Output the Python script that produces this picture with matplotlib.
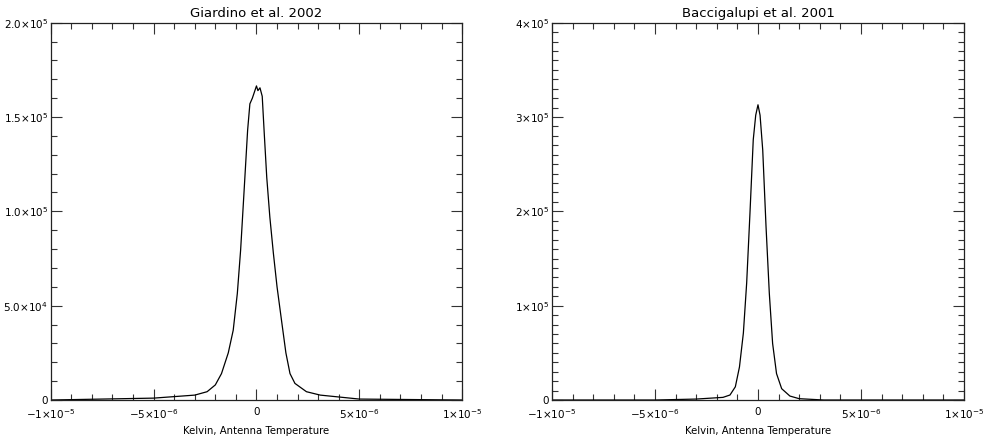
import numpy as np
import matplotlib
matplotlib.use("Agg")
import matplotlib.pyplot as plt
from matplotlib.ticker import FixedLocator, MultipleLocator

# Giardino et al. 2002 histogram (x in Kelvin, y counts)
giardino_x = [-1.0e-5, -5.0e-6, -3.0e-6, -2.4e-6, -2.0e-6, -1.7e-6, -1.37e-6, -1.13e-6,
              -0.93e-6, -0.77e-6, -0.59e-6, -0.43e-6, -0.32e-6, -0.2e-6, 0.0, 0.07e-6,
              0.17e-6, 0.28e-6, 0.38e-6, 0.5e-6, 0.65e-6, 0.82e-6, 1.0e-6, 1.22e-6,
              1.43e-6, 1.63e-6, 1.87e-6, 2.43e-6, 3.1e-6, 5.0e-6, 1.0e-5]
giardino_y = [0, 1.0e3, 2.6e3, 4.4e3, 8.0e3, 1.4e4, 2.5e4, 3.7e4,
              5.65e4, 7.95e4, 1.13e5, 1.43e5, 1.57e5, 1.60e5, 1.665e5, 1.64e5,
              1.655e5, 1.61e5, 1.41e5, 1.18e5, 9.7e4, 7.8e4, 6.0e4, 4.2e4,
              2.5e4, 1.4e4, 8.8e3, 4.4e3, 2.6e3, 5.0e2, 0]

# Baccigalupi et al. 2001 histogram
bacci_x = [-1.0e-5, -5.0e-6, -3.0e-6, -1.7e-6, -1.36e-6, -1.1e-6, -0.9e-6, -0.71e-6,
           -0.55e-6, -0.39e-6, -0.23e-6, -0.11e-6, 0.0, 0.1e-6, 0.23e-6, 0.39e-6,
           0.55e-6, 0.71e-6, 0.9e-6, 1.15e-6, 1.55e-6, 2.0e-6, 3.2e-6, 1.0e-5]
bacci_y = [0, 0, 1.0e3, 2.8e3, 5.3e3, 1.4e4, 3.5e4, 7.1e4,
           1.24e5, 1.98e5, 2.76e5, 3.02e5, 3.13e5, 3.02e5, 2.65e5, 1.84e5,
           1.13e5, 6.0e4, 2.8e4, 1.2e4, 4.2e3, 1.4e3, 0, 0]

x_ticks = [-1e-5, -5e-6, 0, 5e-6, 1e-5]
x_labels = ["\u22121\u00d710$^{-5}$", "\u22125\u00d710$^{-6}$", "0", "5\u00d710$^{-6}$", "1\u00d710$^{-5}$"]

left_yticks = [0, 5e4, 1e5, 1.5e5, 2e5]
left_ylabels = ["0", "5.0\u00d710$^{4}$", "1.0\u00d710$^{5}$", "1.5\u00d710$^{5}$", "2.0\u00d710$^{5}$"]
right_yticks = [0, 1e5, 2e5, 3e5, 4e5]
right_ylabels = ["0", "1\u00d710$^{5}$", "2\u00d710$^{5}$", "3\u00d710$^{5}$", "4\u00d710$^{5}$"]

plt.rcParams['font.family'] = ['DejaVu Sans']
plt.rcParams['mathtext.fontset'] = 'dejavusans'

fig = plt.figure(figsize=(9.83, 4.42), dpi=100)
ax1 = fig.add_axes([0.0516, 0.095, 0.4186, 0.8536])
ax2 = fig.add_axes([0.5616, 0.095, 0.4190, 0.8536])

panels = [
    (ax1, giardino_x, giardino_y, "Giardino et al. 2002", left_yticks, left_ylabels, 2e5),
    (ax2, bacci_x, bacci_y, "Baccigalupi et al. 2001", right_yticks, right_ylabels, 4e5),
]

for ax, xs, ys, title, yt, yl, ymax in panels:
    ax.plot(xs, ys, color="black", lw=0.9)
    ax.set_xlim(-1e-5, 1e-5)
    ax.set_ylim(0, ymax)
    ax.xaxis.set_major_locator(FixedLocator(x_ticks))
    ax.set_xticklabels(x_labels)
    ax.xaxis.set_minor_locator(MultipleLocator(1e-6))
    ax.yaxis.set_major_locator(FixedLocator(yt))
    ax.set_yticklabels(yl)
    ax.yaxis.set_minor_locator(MultipleLocator(1e4))
    ax.tick_params(which="both", direction="in", top=True, right=True,
                   labelsize=7.5, color="#333333", width=0.8)
    ax.tick_params(axis="x", which="major", length=8, pad=5)
    ax.tick_params(axis="y", which="major", length=8, pad=2)
    ax.tick_params(which="minor", length=4)
    for s in ax.spines.values():
        s.set_linewidth(0.9)
        s.set_color("#222222")
    ax.set_title(title, fontsize=9.5, pad=4)
    ax.set_xlabel("Kelvin, Antenna Temperature", fontsize=7.3, labelpad=4)

fig.savefig("out.png", dpi=100)
